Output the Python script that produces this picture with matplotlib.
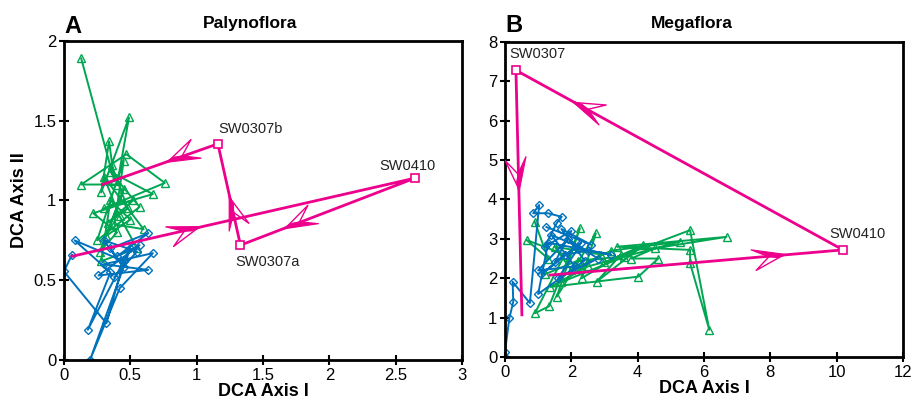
import numpy as np
import matplotlib
matplotlib.use("Agg")
import matplotlib.pyplot as plt
from matplotlib.patches import Polygon
from matplotlib.lines import Line2D

plt.rcParams['font.family'] = ['Liberation Sans', 'DejaVu Sans']

GREEN = '#00a651'
BLUE = '#0072bc'
PINK = '#ec008c'

# ---- Panel A: Palynoflora ----
green_a_x = [0.13, 0.38, 0.34, 0.28, 0.49, 0.40, 0.13, 0.47, 0.76, 0.30, 0.67, 0.35,
             0.57, 0.25, 0.45, 0.38, 0.60, 0.30, 0.42, 0.55, 0.28, 0.35, 0.50, 0.32,
             0.45, 0.27, 0.40, 0.22, 0.52, 0.33, 0.48, 0.36]
green_a_y = [1.89, 1.12, 1.37, 1.05, 1.52, 1.10, 1.10, 1.29, 1.11, 0.95, 1.04, 1.18,
             0.96, 0.75, 1.25, 0.85, 0.82, 1.15, 0.90, 0.70, 0.62, 1.00, 0.88, 0.78,
             1.07, 0.68, 0.80, 0.92, 1.00, 0.86, 0.95, 1.22]

blue_a_x = [0.06, 0.00, 0.32, 0.45, 0.08, 0.35, 0.18, 0.50, 0.196, 0.42, 0.67, 0.30,
            0.635, 0.26, 0.57, 0.40, 0.635, 0.35, 0.45, 0.30, 0.55, 0.38]
blue_a_y = [0.66, 0.555, 0.23, 0.62, 0.75, 0.55, 0.19, 0.70, 0.00, 0.45, 0.67, 0.60,
            0.565, 0.53, 0.72, 0.65, 0.795, 0.70, 0.58, 0.75, 0.68, 0.52]

pink_a_x = [0.06, 2.645, 1.33, 1.16, 0.29]
pink_a_y = [0.65, 1.14, 0.72, 1.355, 1.10]
pink_a_labels = {1: 'SW0410', 2: 'SW0307a', 3: 'SW0307b'}
pink_a_arrows = [0.38, 0.76, 0.50, 0.46]   # arrow tip position along each segment

# ---- Panel B: Megaflora ----
blue_b_x = [0.0, 0.0, 0.13, 0.25, 0.23, 0.75, 1.03, 0.85, 1.30, 1.71, 1.56, 1.20,
            2.00, 1.50, 2.30, 1.10, 1.80, 2.50, 1.40, 2.10, 1.00, 1.90, 2.80, 1.60,
            2.20, 3.20, 1.30, 1.00, 2.40, 1.70, 2.60, 1.25]
blue_b_y = [0.0, 0.13, 0.98, 1.40, 1.91, 1.37, 3.86, 3.65, 3.65, 3.56, 3.40, 2.80,
            3.20, 2.40, 2.90, 2.10, 2.60, 2.70, 3.10, 2.30, 2.20, 3.00, 2.50, 2.00,
            2.75, 2.60, 2.90, 1.60, 2.45, 3.25, 2.85, 3.30]

green_b_x = [0.90, 1.30, 0.65, 1.80, 0.90, 1.33, 2.26, 1.56, 2.74, 2.31, 3.50, 2.76,
             4.17, 3.00, 5.58, 6.16, 5.58, 5.58, 3.38, 6.68, 4.52, 3.80, 4.62, 4.02,
             1.36, 2.50, 5.28, 3.20, 2.00, 1.50, 2.90, 1.70, 3.60, 2.20, 1.20]
green_b_y = [3.43, 2.50, 2.97, 2.60, 1.11, 1.29, 3.27, 1.53, 3.14, 2.00, 2.60, 1.91,
             2.84, 2.40, 3.22, 0.69, 2.38, 2.72, 2.80, 3.05, 2.76, 2.50, 2.50, 2.04,
             1.78, 2.30, 2.93, 2.70, 2.20, 2.80, 2.60, 1.90, 2.55, 2.45, 2.10]

pink_b_x = [1.36, 10.19, 0.33, 0.51]
pink_b_y = [2.08, 2.72, 7.28, 1.07]
pink_b_labels = {1: 'SW0410', 2: 'SW0307'}
pink_b_arrows = [0.81, 0.83, 0.50]


def half_arrow(ax, p0, p1, frac, color, L=36, W=13):
    # barbed half-filled arrowhead drawn in display space
    a = ax.transData.transform(p0)
    b = ax.transData.transform(p1)
    d = (b - a) / np.hypot(*(b - a))
    n = np.array([-d[1], d[0]])
    t = a + frac * (b - a)
    filled = [t, t - L * d + 8 * n, t - 0.55 * L * d, t - 0.3 * L * d - 2 * n]
    ax.add_patch(Polygon(filled, closed=True, transform=None, fc=color, ec=color,
                         lw=0.8, zorder=5))
    opened = np.array([t - 0.1 * L * d, t - 0.9 * L * d - W * n, t - 0.5 * L * d])
    ax.add_line(Line2D(opened[:, 0], opened[:, 1], transform=None, color=color,
                       lw=1.0, zorder=5))


def style(ax):
    for s in ax.spines.values():
        s.set_linewidth(2)
    ax.tick_params(direction='inout', length=7, width=1.5, labelsize=12,
                   top=False, right=False, pad=2)


fig = plt.figure(figsize=(9.14, 4.05), dpi=100)
axA = fig.add_axes([0.070, 0.111, 0.4355, 0.788])
axB = fig.add_axes([0.5525, 0.1185, 0.4355, 0.778])

# panel A
axA.plot(green_a_x, green_a_y, '-^', color=GREEN, mfc='none', ms=6, lw=1.4, mew=1)
axA.plot(blue_a_x, blue_a_y, '-D', color=BLUE, mfc='none', ms=4.5, lw=1.4, mew=1)
axA.plot(pink_a_x, pink_a_y, '-', color=PINK, lw=2, zorder=4)
for i, lab in pink_a_labels.items():
    axA.plot(pink_a_x[i], pink_a_y[i], 's', color=PINK, mfc='white', ms=6, mew=1.2, zorder=6)
axA.set_xlim(0, 3)
axA.set_ylim(0, 2)
axA.set_xticks([0, 0.5, 1, 1.5, 2, 2.5, 3])
axA.set_xticklabels(['0', '0.5', '1', '1.5', '2', '2.5', '3'])
axA.set_yticks([0, 0.5, 1, 1.5, 2])
axA.set_yticklabels(['0', '0.5', '1', '1.5', '2'])
style(axA)
axA.text(pink_a_x[1] - 0.27, pink_a_y[1] + 0.05, pink_a_labels[1], fontsize=10.5, color='#222222')
axA.text(pink_a_x[2] - 0.04, pink_a_y[2] - 0.13, pink_a_labels[2], fontsize=10.5, color='#222222')
axA.text(pink_a_x[3] + 0.0, pink_a_y[3] + 0.07, pink_a_labels[3], fontsize=10.5, color='#222222')
axA.set_xlabel('DCA Axis I', fontsize=13, fontweight='bold', labelpad=0)
axA.set_ylabel('DCA Axis II', fontsize=13, fontweight='bold', labelpad=4)
axA.text(0.0, 1.025, 'A', transform=axA.transAxes, fontsize=17, fontweight='bold')
axA.text(0.467, 1.04, 'Palynoflora', transform=axA.transAxes, fontsize=12.5,
         fontweight='bold', ha='center')

# panel B
axB.plot(green_b_x, green_b_y, '-^', color=GREEN, mfc='none', ms=6, lw=1.4, mew=1)
axB.plot(blue_b_x, blue_b_y, '-D', color=BLUE, mfc='none', ms=4.5, lw=1.4, mew=1)
axB.plot(pink_b_x, pink_b_y, '-', color=PINK, lw=2, zorder=4)
for i, lab in pink_b_labels.items():
    axB.plot(pink_b_x[i], pink_b_y[i], 's', color=PINK, mfc='white', ms=6, mew=1.2, zorder=6)
axB.set_xlim(0, 12)
axB.set_ylim(0, 8)
axB.set_xticks(range(0, 13, 2))
axB.set_yticks(range(0, 9))
style(axB)
axB.text(pink_b_x[1] - 0.4, pink_b_y[1] + 0.3, pink_b_labels[1], fontsize=10.5, color='#222222')
axB.text(pink_b_x[2] - 0.2, pink_b_y[2] + 0.3, pink_b_labels[2], fontsize=10.5, color='#222222')
axB.set_xlabel('DCA Axis I', fontsize=13, fontweight='bold', labelpad=0)
axB.text(0.0, 1.03, 'B', transform=axB.transAxes, fontsize=17, fontweight='bold')
axB.text(0.47, 1.045, 'Megaflora', transform=axB.transAxes, fontsize=12.5,
         fontweight='bold', ha='center')

# arrows need final limits/positions
fig.canvas.draw()
for k, f in enumerate(pink_a_arrows):
    half_arrow(axA, (pink_a_x[k], pink_a_y[k]), (pink_a_x[k + 1], pink_a_y[k + 1]), f, PINK)
for k, f in enumerate(pink_b_arrows):
    half_arrow(axB, (pink_b_x[k], pink_b_y[k]), (pink_b_x[k + 1], pink_b_y[k + 1]), f, PINK)

fig.savefig('out.png', dpi=100)
